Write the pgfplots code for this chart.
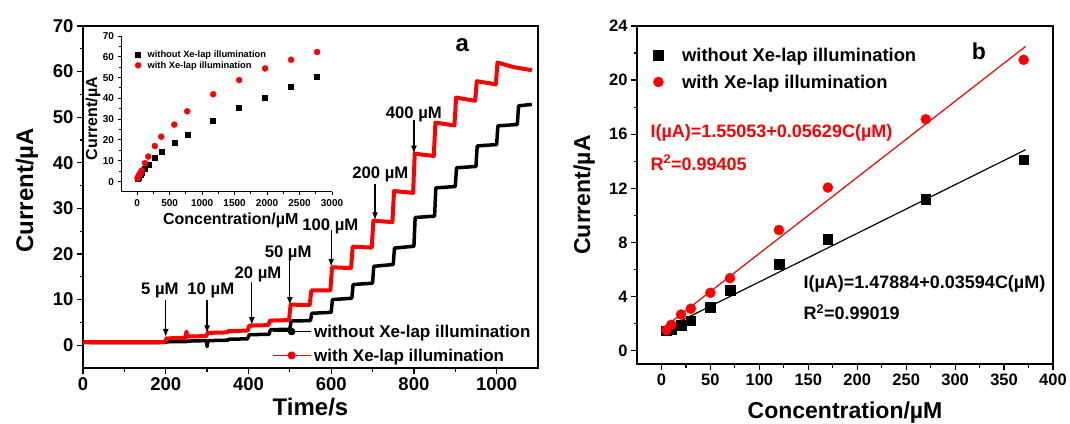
\documentclass[border=0pt]{standalone}
\usepackage{fontspec}
\setmainfont{Liberation Sans}
\usepackage{pgfplots}
\pgfplotsset{compat=1.18}
\usetikzlibrary{arrows.meta}
\newcommand{\fs}[1]{\fontsize{#1}{#1}\selectfont\bfseries}
\begin{document}
\begin{tikzpicture}[x=1pt,y=1pt]
\path[use as bounding box] (0,0) rectangle (1070,423);
\pgfplotsset{
  myax/.style={scale only axis, axis line style={line width=1.2pt},
    tick align=outside, tick pos=left,
    every tick/.style={black, line width=1.2pt},
    major tick length=6pt, minor tick length=3.5pt,
    /pgf/number format/assume math mode=true,
    /pgf/number format/1000 sep={}},
}
% ---------------- panel a ----------------
\begin{axis}[myax, at={(83pt,55pt)}, anchor=south west, width=455pt, height=342pt,
  xmin=0, xmax=1100, ymin=-5, ymax=70,
  xtick={0,200,...,1000}, ytick={0,10,...,70},
  minor x tick num=1, minor y tick num=1,
  ticklabel style={font=\fs{18.5}},
  xlabel={Time/s}, ylabel={Current/µA},
  label style={font=\fs{24}},
  xlabel style={at={(axis description cs:0.5,-0.138)}, anchor=base},
  ylabel style={at={(axis description cs:-0.123,0.52)}, anchor=center},
  legend style={at={(axis description cs:0.415,0.125)}, anchor=north west,
    draw=none, fill=none, font=\fs{17}, inner sep=0pt, row sep=11.5pt, column sep=3pt,
    nodes={inner sep=0pt, text depth=0pt}},
  legend cell align=left,
  legend image code/.code={\draw[#1, line width=1.2pt] (0pt,0pt) -- (38pt,0pt);
     \fill[#1] (19pt,0pt) circle (2pt);},
]
\addplot[black, line width=3.5pt, line join=round] coordinates {
(0,0.6) (100,0.55) (200,0.6) (202,0.75) (250,0.8) (252,0.9) (298,1.0) (300,-0.3) (302,1.0)
(350,1.1) (352,1.3) (398,1.4) (402,2.3) (450,2.4) (453,3.4) (500,3.5) (503,5.3) (550,5.4)
(553,7.0) (600,7.2) (603,10.0) (650,10.3) (653,13.3) (700,13.6) (703,17.3) (750,17.7)
(753,21.3) (800,21.7) (803,28.0) (850,28.3) (853,34.5) (900,34.8) (903,38.9) (950,39.2)
(953,43.7) (1000,44.0) (1003,48.1) (1050,48.4) (1053,52.5) (1085,52.8)};
\addlegendentry{without Xe-lap illumination}
\addplot[red, line width=4pt, line join=round] coordinates {
(0,0.7) (100,0.7) (198,0.7) (202,1.5) (248,1.6) (250,3.0) (252,1.9) (298,2.0) (302,2.7)
(348,2.8) (352,3.1) (398,3.2) (402,4.3) (448,4.4) (452,5.4) (498,5.5) (502,8.9) (548,8.8)
(552,12.0) (598,12.0) (602,17.1) (648,16.9) (652,21.6) (698,21.4) (702,27.3) (748,27.0)
(752,33.8) (798,33.4) (802,42.0) (848,41.5) (852,48.8) (898,48.2) (902,54.3) (948,53.6)
(952,57.9) (998,57.2) (1002,62.0) (1040,61.0) (1085,60.3)};
\addlegendentry{with Xe-lap illumination}
\tikzset{arr/.style={-{Latex[length=8pt,width=6pt]}, line width=1.3pt}}
\node[font=\fs{16.7}] at (axis cs:186,12.1) {5 µM};
\draw[arr] (axis cs:200,9.9) -- (axis cs:200,1.8);
\node[font=\fs{16.7}] at (axis cs:309,12.1) {10 µM};
\draw[arr] (axis cs:300,9.9) -- (axis cs:300,2.6);
\node[font=\fs{16.7}] at (axis cs:423,15.6) {20 µM};
\draw[arr] (axis cs:408,13.9) -- (axis cs:408,4.4);
\node[font=\fs{16.7}] at (axis cs:496,20.1) {50 µM};
\draw[arr] (axis cs:500,18.6) -- (axis cs:500,8.8);
\node[font=\fs{16.7}] at (axis cs:598,26.1) {100 µM};
\draw[arr] (axis cs:600,25.2) -- (axis cs:600,17.2);
\node[font=\fs{16.7}] at (axis cs:719,37.5) {200 µM};
\draw[arr] (axis cs:706,35.3) -- (axis cs:706,27.4);
\node[font=\fs{16.7}] at (axis cs:800,50.6) {400 µM};
\draw[arr] (axis cs:800,49.3) -- (axis cs:800,42);
\node[font=\fs{24}] at (axis cs:917,65.8) {a};
\end{axis}
% ---------------- inset ----------------
\begin{axis}[myax, at={(121pt,231pt)}, anchor=south west, width=211pt, height=156pt,
  axis x line*=bottom, axis y line*=left,
  axis line style={line width=1pt}, every tick/.style={black, line width=1pt},
  major tick length=3.5pt, minor tick length=2pt,
  xmin=-250, xmax=3000, ymin=-5, ymax=70,
  xtick={0,500,...,3000}, ytick={0,10,...,70},
  minor x tick num=1, minor y tick num=1,
  ticklabel style={font=\fs{10}},
  xlabel={Concentration/µM}, ylabel={Current/µA},
  label style={font=\fs{16}},
  xlabel style={at={(axis description cs:0.52,-0.18)}, anchor=center},
  ylabel style={at={(axis description cs:-0.133,0.47)}, anchor=center},
  legend style={at={(axis description cs:0.066,0.905)}, anchor=north west,
    draw=none, fill=none, font=\fs{9.3}, inner sep=0pt, row sep=4.2pt, column sep=6.5pt,
    nodes={inner sep=0pt, text depth=0pt}},
  legend cell align=left,
  legend image code/.code={\draw[mark repeat=2,mark phase=2,#1] plot coordinates {(-4pt,0pt) (0pt,0pt) (4pt,0pt)};},
]
\addplot[black, only marks, mark=square*, mark size=2.5pt] coordinates {
(5,1.45) (10,1.53) (20,1.88) (30,2.21) (50,3.19) (70,4.47) (120,6.40) (170,8.23) (270,11.3)
(370,14.2) (570,18.5) (770,22.7) (1170,29.3) (1570,35.7) (1970,40.3) (2370,45.6) (2770,50.2)};
\addlegendentry{without Xe-lap illumination}
\addplot[red, only marks, mark=*, mark size=3pt] coordinates {
(5,1.5) (10,1.9) (20,2.66) (30,3.09) (50,4.27) (70,5.35) (120,8.91) (170,12.05) (270,17.1)
(370,21.6) (570,27.4) (770,33.8) (1170,42.0) (1570,48.8) (1970,54.4) (2370,58.6) (2770,62.3)};
\addlegendentry{with Xe-lap illumination}
\end{axis}
% ---------------- panel b ----------------
\begin{axis}[myax, at={(637pt,59pt)}, anchor=south west, width=416pt, height=338pt,
  xmin=-25, xmax=400, ymin=-1, ymax=24,
  xtick={0,50,...,400}, ytick={0,4,...,24},
  minor x tick num=1, minor y tick num=1,
  ticklabel style={font=\fs{16.5}},
  xlabel={Concentration/µM}, ylabel={Current/µA},
  label style={font=\fs{23}},
  xlabel style={at={(axis description cs:0.5,-0.16)}, anchor=base},
  ylabel style={at={(axis description cs:-0.127,0.5)}, anchor=center},
  legend style={at={(axis description cs:0.039,0.934)}, anchor=north west,
    draw=none, fill=none, font=\fs{18.4}, inner sep=0pt, row sep=13.5pt, column sep=18.7pt,
    nodes={inner sep=0pt, text depth=0pt}},
  legend cell align=left,
  legend image code/.code={\draw[mark repeat=2,mark phase=2,#1] plot coordinates {(-10pt,0pt) (0pt,0pt) (10pt,0pt)};},
]
\addplot[black, line width=1.2pt, forget plot] coordinates {(5,1.659) (372,14.848)};
\addplot[red, line width=1.2pt, forget plot] coordinates {(5,1.832) (372,22.490)};
\addplot[black, only marks, mark=square*, mark size=4.8pt] coordinates {
(5,1.45) (10,1.53) (20,1.88) (30,2.21) (50,3.19) (70,4.47) (120,6.40) (170,8.23) (270,11.2) (370,14.1)};
\addlegendentry{without Xe-lap illumination}
\addplot[red, only marks, mark=*, mark size=5pt] coordinates {
(5,1.5) (10,1.9) (20,2.66) (30,3.09) (50,4.27) (70,5.35) (120,8.91) (170,12.05) (270,17.1) (370,21.5)};
\addlegendentry{with Xe-lap illumination}
\node[anchor=west, red, font=\fs{18}] at (axis cs:-14.8,16.09) {I(µA)=1.55053+0.05629C(µM)};
\node[anchor=west, red, font=\fs{18}] at (axis cs:-14.8,13.89) {R\textsuperscript{2}=0.99405};
\node[anchor=west, font=\fs{18}] at (axis cs:141.5,4.92) {I(µA)=1.47884+0.03594C(µM)};
\node[anchor=west, font=\fs{18}] at (axis cs:141.5,2.85) {R\textsuperscript{2}=0.99019};
\node[font=\fs{23}] at (axis cs:324.4,22.15) {b};
\end{axis}
\end{tikzpicture}
\end{document}
